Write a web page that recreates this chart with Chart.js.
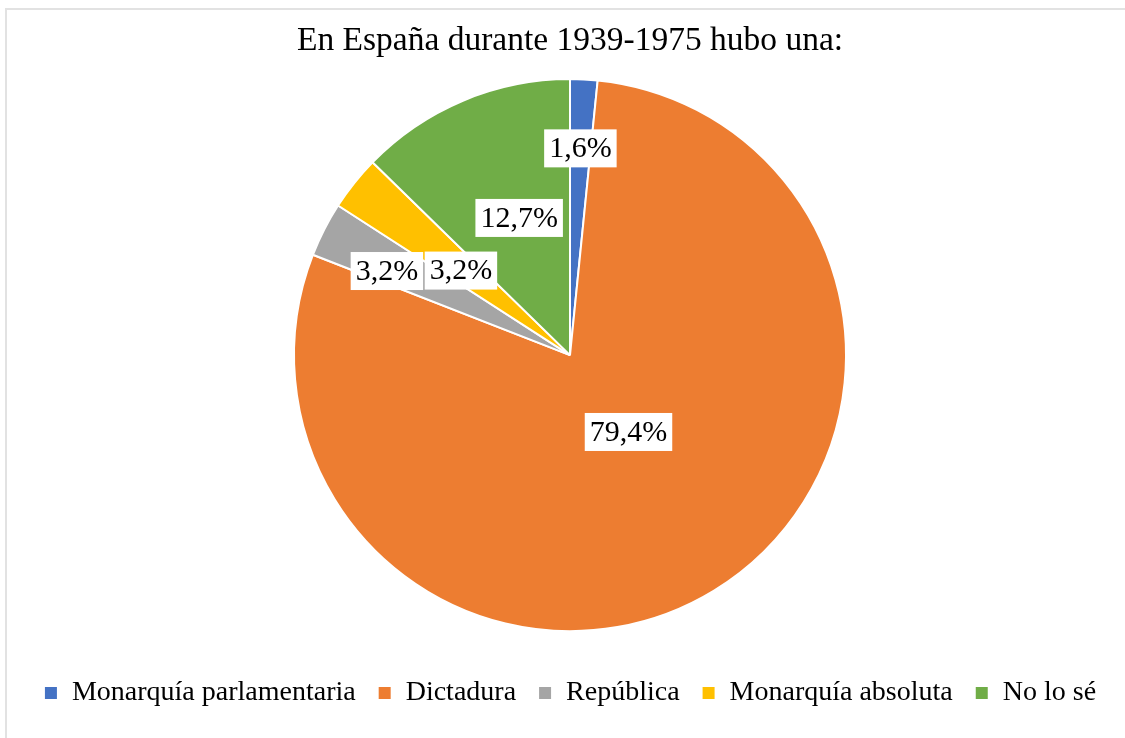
<!DOCTYPE html>
<html>
<head>
<meta charset="utf-8">
<script src="https://cdn.jsdelivr.net/npm/chart.js@4/dist/chart.umd.min.js"></script>
<style>
  html, body { margin: 0; padding: 0; background: #fff; overflow: hidden; }
  #frame { position: absolute; left: 5px; top: 8px; width: 1140px; height: 750px;
           border-left: 2px solid #e2e2e2; border-top: 2px solid #e2e2e2; }
  #chart { position: absolute; left: 0; top: 0; }
</style>
</head>
<body>
<div id="frame"></div>
<canvas id="chart" width="1125" height="738"></canvas>
<script>
const chartTitle = "En España durante 1939-1975 hubo una:";
const categories = ["Monarquía parlamentaria", "Dictadura", "República", "Monarquía absoluta", "No lo sé"];
const percentages = [1.6, 79.4, 3.2, 3.2, 12.7];
const colors = ["#4472C4", "#ED7D31", "#A5A5A5", "#FFC000", "#70AD47"];

// donde va cada etiqueta: fracción del radio y pequeño giro en grados
const labelRadius = [0.75, 0.35, 0.73, 0.50, 0.53];
const labelNudge = [0, -5.8, -2.4, -0.8, 2.5];

const serif = "'Liberation Serif', 'Times New Roman', serif";

function fmt(v) {
  return v.toFixed(1).replace(".", ",") + "%";
}

// etiquetas en caja blanca, como en Excel
const boxLabels = {
  id: "boxLabels",
  afterDatasetsDraw(chart) {
    const ctx = chart.ctx;
    const meta = chart.getDatasetMeta(0);
    ctx.save();
    ctx.font = "30px " + serif;
    ctx.textAlign = "center";
    ctx.textBaseline = "middle";
    meta.data.forEach((arc, i) => {
      const p = arc.getProps(["x", "y", "startAngle", "endAngle", "outerRadius"], true);
      const a = (p.startAngle + p.endAngle) / 2 + labelNudge[i] * Math.PI / 180;
      const r = p.outerRadius * labelRadius[i];
      const cx = p.x + Math.cos(a) * r;
      const cy = p.y + Math.sin(a) * r;
      const text = fmt(percentages[i]);
      const w = ctx.measureText(text).width + 10;
      const h = 38;
      ctx.fillStyle = "#fff";
      ctx.fillRect(cx - w / 2, cy - h / 2, w, h);
      ctx.fillStyle = "#000";
      ctx.fillText(text, cx, cy + 1);
    });
    ctx.restore();
  }
};

new Chart(document.getElementById("chart"), {
  type: "pie",
  data: {
    labels: categories,
    datasets: [{
      data: percentages,
      backgroundColor: colors,
      borderColor: "#fff",
      borderWidth: 2,
      radius: 276
    }]
  },
  plugins: [boxLabels],
  options: {
    responsive: false,
    animation: false,
    layout: { padding: { left: 15, right: 0, top: 0, bottom: 21 } },
    plugins: {
      title: {
        display: true,
        text: chartTitle,
        color: "#000",
        font: { family: serif, size: 33.5, weight: "normal" },
        padding: { top: 21, bottom: 0 }
      },
      legend: {
        position: "bottom",
        title: { display: true, text: "", font: { size: 5 }, padding: { top: 2, bottom: 0 } },
        labels: {
          color: "#000",
          font: { family: serif, size: 28 },
          boxWidth: 14,
          boxHeight: 14,
          padding: 22
        }
      },
      tooltip: { enabled: false }
    }
  }
});
</script>
</body>
</html>
